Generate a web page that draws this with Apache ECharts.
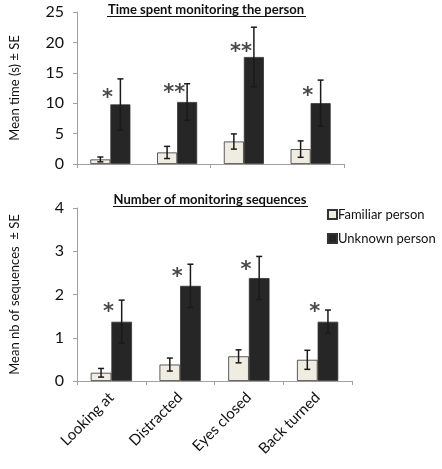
<!DOCTYPE html>
<html><head><meta charset="utf-8">
<script src="https://cdn.jsdelivr.net/npm/echarts@6/dist/echarts.min.js"></script>
<style>html,body{margin:0;padding:0;background:#fff}#c{width:442px;height:469px}</style>
</head><body><div id="c"></div>
<script>
var categories = ['Looking at', 'Distracted', 'Eyes closed', 'Back turned'];
var timeFamiliar = [0.75, 1.9, 3.7, 2.45];
var timeFamiliarSE = [0.4, 1.0, 1.25, 1.35];
var timeUnknown = [9.8, 10.2, 17.6, 10.0];
var timeUnknownSE = [4.2, 3.0, 4.9, 3.8];
var timeSig = ['*', '**', '**', '*'];
var timeSigLevel = [11.7, 12.5, 19.4, 12.0];
var seqFamiliar = [0.19, 0.38, 0.57, 0.49];
var seqFamiliarSE = [0.1, 0.15, 0.15, 0.22];
var seqUnknown = [1.37, 2.2, 2.38, 1.37];
var seqUnknownSE = [0.5, 0.5, 0.5, 0.27];
var seqSig = ['*', '*', '*', '*'];
var seqSigLevel = [1.71, 2.52, 2.69, 1.71];
var timeTicks = [0, 5, 10, 15, 20, 25];
var seqTicks = [0, 1, 2, 3, 4];

var FONT = 'Lato';
var FAM_COLOR = '#efede2';
var UNK_COLOR = '#262626';

function errSeries(idx, means, ses, side) {
  return {
    type: 'custom', xAxisIndex: idx, yAxisIndex: idx, z: 5, silent: true,
    data: means.map(function (m, i) { return [i, m - ses[i], m + ses[i]]; }),
    renderItem: function (params, api) {
      var cw = api.size([1, 0])[0];
      var off = side * cw * 0.15;
      var lo = api.coord([api.value(0), api.value(1)]);
      var hi = api.coord([api.value(0), api.value(2)]);
      var x = lo[0] + off, c = 3;
      var st = { stroke: '#1a1a1a', lineWidth: 1.5 };
      return { type: 'group', children: [
        { type: 'line', shape: { x1: x, y1: lo[1], x2: x, y2: hi[1] }, style: st },
        { type: 'line', shape: { x1: x - c, y1: lo[1], x2: x + c, y2: lo[1] }, style: st },
        { type: 'line', shape: { x1: x - c, y1: hi[1], x2: x + c, y2: hi[1] }, style: st }
      ] };
    }
  };
}
function sigSeries(idx, levels, sig) {
  return {
    type: 'scatter', xAxisIndex: idx, yAxisIndex: idx, symbolSize: 0, z: 6, silent: true,
    data: levels.map(function (v, i) { return [i, v]; }),
    label: { show: true, position: 'inside', offset: [-3, 6],
      formatter: function (p) { return sig[p.dataIndex]; },
      fontFamily: 'DejaVu Sans', fontSize: 21, fontWeight: 'bold', color: '#1a1a1a' }
  };
}
function xAx(idx, showLabels) {
  return {
    type: 'category', gridIndex: idx, data: categories,
    axisLine: { lineStyle: { color: '#a0a0a0', width: 1 } },
    axisTick: { show: true, length: 4, lineStyle: { color: '#a0a0a0' } },
    axisLabel: showLabels ? { rotate: 45, fontFamily: FONT, fontSize: 15, color: '#111', margin: 14, interval: 0 } : { show: false }
  };
}
function yAx(idx, ticks, name) {
  return {
    type: 'value', gridIndex: idx, min: ticks[0], max: ticks[ticks.length - 1], interval: ticks[1] - ticks[0],
    name: name, nameLocation: 'middle', nameGap: 56,
    nameTextStyle: { fontFamily: FONT, fontSize: 13, color: '#111' },
    axisLine: { show: true, lineStyle: { color: '#a0a0a0' } },
    axisTick: { show: true, length: 4, lineStyle: { color: '#a0a0a0' } },
    axisLabel: { fontFamily: FONT, fontSize: 16, color: '#111', margin: 13 },
    splitLine: { show: false }
  };
}
function barSeries(idx, name, data, color) {
  return {
    type: 'bar', name: name, xAxisIndex: idx, yAxisIndex: idx, data: data,
    barWidth: '30%', barGap: '0%',
    itemStyle: { color: color, borderColor: '#333', borderWidth: 0.8 }
  };
}

var chart = echarts.init(document.getElementById('c'));
chart.setOption({
  animation: false,
  textStyle: { fontFamily: FONT },
  title: [
    { text: 'Time spent monitoring the person', left: 206, top: 3, padding: 0, textAlign: 'center',
      textStyle: { fontFamily: FONT, fontSize: 13, fontWeight: 'bold', color: '#111' } },
    { text: 'Number of monitoring sequences', left: 210, top: 193, padding: 0, textAlign: 'center',
      textStyle: { fontFamily: FONT, fontSize: 13, fontWeight: 'bold', color: '#111' } }
  ],
  legend: {
    data: ['Familiar person', 'Unknown person'], orient: 'vertical', left: 322, top: 203,
    icon: 'rect', itemWidth: 9, itemHeight: 9, itemGap: 11,
    textStyle: { fontFamily: FONT, fontSize: 13, color: '#111', padding: [0, 0, 0, -4] }
  },
  grid: [
    { left: 75, top: 12, width: 269, height: 152 },
    { left: 75, top: 208, width: 277, height: 173 }
  ],
  xAxis: [xAx(0, false), xAx(1, true)],
  yAxis: [yAx(0, timeTicks, 'Mean time (s) \u00b1 SE'), yAx(1, seqTicks, 'Mean nb of sequences  \u00b1 SE')],
  series: [
    barSeries(0, 'Familiar person', timeFamiliar, FAM_COLOR),
    barSeries(0, 'Unknown person', timeUnknown, UNK_COLOR),
    errSeries(0, timeFamiliar, timeFamiliarSE, -1),
    errSeries(0, timeUnknown, timeUnknownSE, 1),
    sigSeries(0, timeSigLevel, timeSig),
    barSeries(1, 'Familiar person', seqFamiliar, FAM_COLOR),
    barSeries(1, 'Unknown person', seqUnknown, UNK_COLOR),
    errSeries(1, seqFamiliar, seqFamiliarSE, -1),
    errSeries(1, seqUnknown, seqUnknownSE, 1),
    sigSeries(1, seqSigLevel, seqSig)
  ],
  graphic: [
    { type: 'line', shape: { x1: 107, y1: 16.5, x2: 306, y2: 16.5 }, style: { stroke: '#111', lineWidth: 1 } },
    { type: 'line', shape: { x1: 113, y1: 206.5, x2: 308, y2: 206.5 }, style: { stroke: '#111', lineWidth: 1 } }
  ]
});
</script></body></html>
